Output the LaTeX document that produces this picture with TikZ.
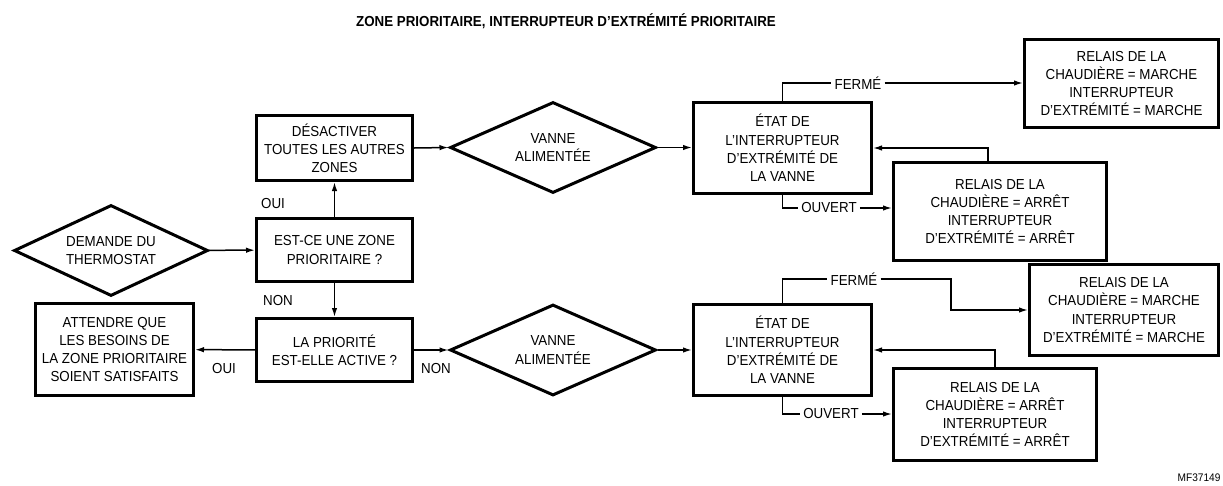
\documentclass[tikz,border=0pt]{standalone}
\usepackage{fontspec}
\setmainfont{Liberation Sans}[FakeStretch=0.92]
\usetikzlibrary{positioning,arrows.meta,calc}
\usetikzlibrary{shapes.geometric}
\tikzset{stepbox/.style={draw,line width=3pt,align=center,inner sep=2pt,
    font=\fontsize{14.5}{18.2}\selectfont},
  choice/.style={draw,diamond,aspect=2.2,line width=3pt,align=center,inner sep=0pt,
    minimum width=#1,minimum height=91pt,font=\fontsize{14.5}{18.2}\selectfont},
  lbl/.style={inner sep=3pt,font=\fontsize{14.5}{16}\selectfont},
  conn/.style={line width=1.5pt}
}

\begin{document}
\begin{tikzpicture}[x=1pt,y=-1pt,>={Latex[length=9pt,width=5.5pt]}]
	\useasboundingbox (0,0) rectangle (1223,485);
	\node[font=\fontsize{14.5}{16}\selectfont\bfseries] (title) at (566,21) {ZONE PRIORITAIRE, INTERRUPTEUR D’EXTRÉMITÉ PRIORITAIRE};
	% left part
	\node[choice=194pt] (dem) at (111,250.5) {DEMANDE DU\\THERMOSTAT};
	\node[stepbox,minimum width=156pt,minimum height=63pt] (zone) at (334.5,250) {EST-CE UNE ZONE\\PRIORITAIRE ?};
	\node[stepbox,minimum width=156pt,minimum height=65pt] (desact) at (334.5,148) {DÉSACTIVER\\TOUTES LES AUTRES\\ZONES};
	\node[stepbox,minimum width=156pt,minimum height=63pt] (prio) at (334.5,350) {LA PRIORITÉ\\EST-ELLE ACTIVE ?};
	\node[stepbox,minimum width=158pt,minimum height=92pt] (att) at (114.5,349.5) {ATTENDRE QUE\\LES BESOINS DE\\LA ZONE PRIORITAIRE\\SOIENT SATISFAITS};
	% valves
	\node[choice=206pt] (van1) at (553,147.5) {VANNE\\ALIMENTÉE};
	\node[choice=206pt] (van2) at (553,350) {VANNE\\ALIMENTÉE};
	\node[stepbox,minimum width=178pt,minimum height=91pt] (etat1) at (782.5,148) {ÉTAT DE\\L’INTERRUPTEUR\\D’EXTRÉMITÉ DE\\LA VANNE};
	\node[stepbox,minimum width=178pt,minimum height=91pt] (etat2) at (782.5,350) {ÉTAT DE\\L’INTERRUPTEUR\\D’EXTRÉMITÉ DE\\LA VANNE};
	% relays
	\node[stepbox,minimum width=194pt,minimum height=88pt] (mar1) at (1121.5,83.5) {RELAIS DE LA\\CHAUDIÈRE = MARCHE\\INTERRUPTEUR\\D’EXTRÉMITÉ = MARCHE};
	\node[stepbox,minimum width=213pt,minimum height=98pt] (arr1) at (1000,211.5) {RELAIS DE LA\\CHAUDIÈRE = ARRÊT\\INTERRUPTEUR\\D’EXTRÉMITÉ = ARRÊT};
	\node[stepbox,minimum width=189pt,minimum height=91pt] (mar2) at (1124,310) {RELAIS DE LA\\CHAUDIÈRE = MARCHE\\INTERRUPTEUR\\D’EXTRÉMITÉ = MARCHE};
	\node[stepbox,minimum width=203pt,minimum height=92pt] (arr2) at (995,414.5) {RELAIS DE LA\\CHAUDIÈRE = ARRÊT\\INTERRUPTEUR\\D’EXTRÉMITÉ = ARRÊT};
	% switch labels
	\node[lbl] (fer1) at (858,83) {FERMÉ};
	\node[lbl] (ouv1) at (829,208) {OUVERT};
	\node[lbl] (fer2) at (854,279) {FERMÉ};
	\node[lbl] (ouv2) at (831,414) {OUVERT};
	\coordinate (k2) at (951,279);
	% yes / no
	\node[lbl] at (273,204) {OUI};
	\node[lbl] at (278,301) {NON};
	\node[lbl] at (224,369) {OUI};
	\node[lbl] at (436,369) {NON};
	\node[font=\fontsize{11}{12}\selectfont] (ref) at (1199,478) {MF37149};
	\draw [conn,->] (dem) -- (zone);
	\draw [conn,->] (zone) -- (desact);
	\draw [conn,->] (zone) -- (prio);
	\draw [conn,->] (prio) -- (att);
	\draw [conn,->] (prio.east) -- (van2.west);
	\draw [conn,->] (desact.east) -- (van1.west);
	\draw [conn,->] (van1.east) -- (etat1.west |- van1.east);
	\draw [conn,->] (van2.east) -- (etat2.west |- van2.east);
	\draw [conn] (etat1.north) |- (fer1.west);
	\draw [conn,->] (fer1.east) -- (mar1.west |- fer1.east);
	\draw [conn] (etat1.south) |- (ouv1.west);
	\draw [conn,->] (ouv1.east) -- (arr1.west |- ouv1.east);
	\draw [conn,->] ([xshift=-12pt]arr1.north) |- (etat1.east);
	\draw [conn] (etat2.north) |- (fer2.west);
	\draw [conn,->] (fer2.east) -- (k2) |- (mar2.west);
	\draw [conn] (etat2.south) |- (ouv2.west);
	\draw [conn,->] (ouv2.east) -- (arr2.west |- ouv2.east);
	\draw [conn,->] (arr2.north) |- (etat2.east);
\end{tikzpicture}
\end{document}
